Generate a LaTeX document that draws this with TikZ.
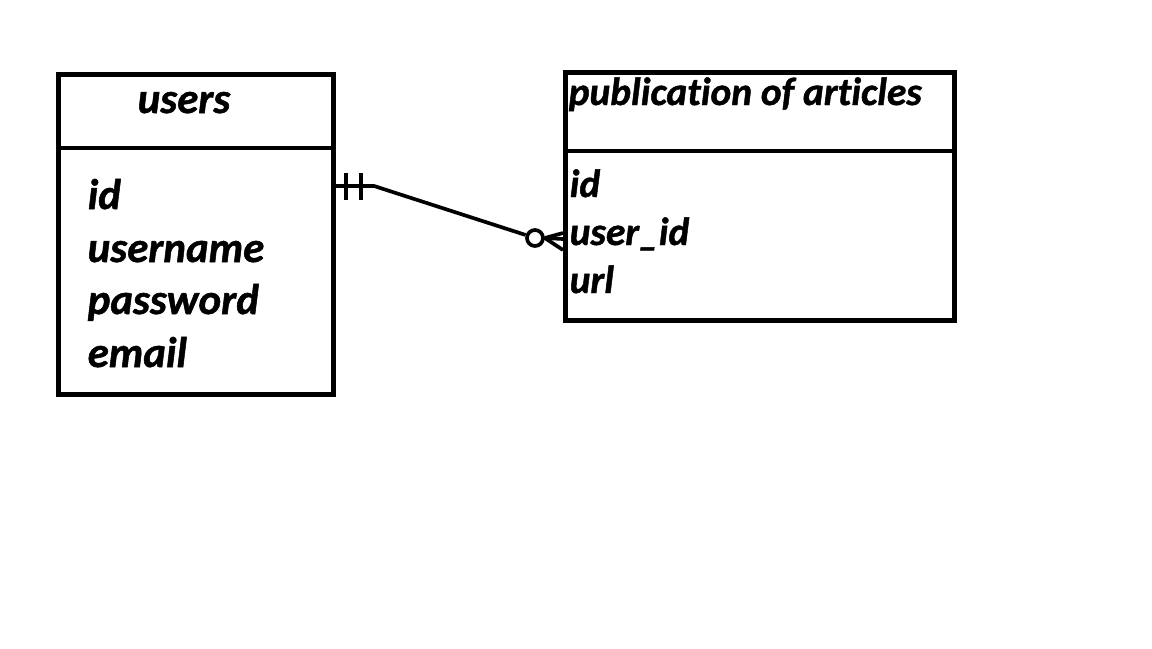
\documentclass[tikz,border=0pt]{standalone}
\usepackage{fontspec}
\setmainfont[Ligatures={NoCommon},FakeBold=1.2]{Carlito}
\usepackage{tikz}
\usetikzlibrary{calc}

\begin{document}
\begin{tikzpicture}[x=0.01cm,y=-0.01cm]
            \tikzstyle{tbl}=[draw,line width=1.4pt,inner sep=0pt,anchor=north west]
            \tikzstyle{fldL}=[font=\fontsize{12.2}{14}\selectfont\bfseries\itshape,inner sep=0pt,anchor=base west]
            \tikzstyle{fldR}=[font=\fontsize{11.2}{13}\selectfont\bfseries\itshape,inner sep=0pt,anchor=base west]
            \tikzstyle{conn}=[line width=1.05pt]
            \useasboundingbox (0,0) rectangle (1152,648);
            % users table
            \node[tbl,minimum width=2.75cm,minimum height=3.2cm] (users) at (56,72) {};
            \draw[line width=1.4pt] (users.west |- 0,148) -- (users.east |- 0,148);
            \node[fldL] (usersT) at (137,113) {users};
            \node[fldL] (uId) at (87,209) {id};
            \node[fldL] (uName) at (87,262) {username};
            \node[fldL] (uPass) at (87,314) {password};
            \node[fldL] (uMail) at (87,367) {email};
            % publication table
            \node[tbl,minimum width=3.89cm,minimum height=2.48cm] (pub) at (563,70) {};
            \draw[line width=1.4pt] (pub.west |- 0,151) -- (pub.east |- 0,151);
            \node[fldR] (pubT) at (568,105) {publication of articles};
            \node[fldR] (pId) at (569,197) {id};
            \node[fldR] (pUser) at (569,245) {user\_id};
            \node[fldR] (pUrl) at (569,293) {url};
            % relation: one and only one -- zero or many
            \coordinate (one) at (users.east |- 0,186);
            \node[draw,conn,circle,minimum size=0.16cm,inner sep=0pt] (zero) at (535,238) {};
            \draw[conn] (one) -- ++(38,0) coordinate (bend) -- (zero);
            \draw[conn] ($(one)+(10,-13)$) -- ++(0,27);
            \draw[conn] ($(one)+(25,-13)$) -- ++(0,27);
            \draw[conn] (zero.east) -- (pub.west |- 0,233);
            \draw[conn] (zero.east) -- (pub.west |- 0,239);
            \draw[conn] (zero.east) -- (pub.west |- 0,250);
          \end{tikzpicture}
\end{document}
